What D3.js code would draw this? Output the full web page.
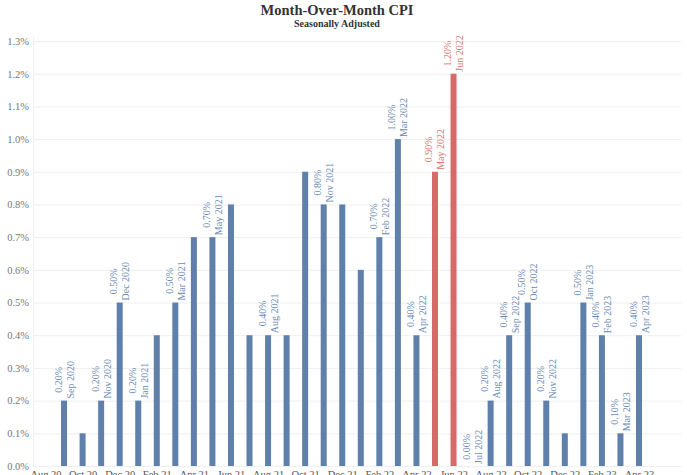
<!DOCTYPE html>
<html><head><meta charset="utf-8">
<script src="https://cdn.jsdelivr.net/npm/d3@7"></script>
<style>
html,body{margin:0;padding:0;background:#fff;overflow:hidden;}
svg{display:block;font-family:"Liberation Serif","DejaVu Serif",serif;}
</style></head>
<body>
<svg id="chart" width="687" height="475"></svg>
<script>
const categories = ["Sep 2020","Oct 2020","Nov 2020","Dec 2020","Jan 2021","Feb 2021","Mar 2021","Apr 2021","May 2021","Jun 2021","Jul 2021","Aug 2021","Sep 2021","Oct 2021","Nov 2021","Dec 2021","Jan 2022","Feb 2022","Mar 2022","Apr 2022","May 2022","Jun 2022","Jul 2022","Aug 2022","Sep 2022","Oct 2022","Nov 2022","Dec 2022","Jan 2023","Feb 2023","Mar 2023","Apr 2023"];
const values = [0.2,0.1,0.2,0.5,0.2,0.4,0.5,0.7,0.7,0.8,0.4,0.4,0.4,0.9,0.8,0.8,0.6,0.7,1.0,0.4,0.9,1.2,0.0,0.2,0.4,0.5,0.2,0.1,0.5,0.4,0.1,0.4];
const highlighted = ["May 2022","Jun 2022"];
const labeled = ["Sep 2020","Nov 2020","Dec 2020","Jan 2021","Mar 2021","May 2021","Aug 2021","Nov 2021","Feb 2022","Mar 2022","Apr 2022","May 2022","Jun 2022","Jul 2022","Aug 2022","Sep 2022","Oct 2022","Nov 2022","Jan 2023","Feb 2023","Mar 2023","Apr 2023"];
const axisMonths = ["Aug 2020"].concat(categories);
const xTickLabels = ["Aug 20","Oct 20","Dec 20","Feb 21","Apr 21","Jun 21","Aug 21","Oct 21","Dec 21","Feb 22","Apr 22","Jun 22","Aug 22","Oct 22","Dec 22","Feb 23","Apr 23"];
const yTicks = [0,0.1,0.2,0.3,0.4,0.5,0.6,0.7,0.8,0.9,1.0,1.1,1.2,1.3];
const title = "Month-Over-Month CPI";
const subtitle = "Seasonally Adjusted";

const blue = "#5f80ab", red = "#d76a66";
const blueText = "#6a8ab4", redText = "#d8736e";

const svg = d3.select("#chart");
const plotLeft = 33, plotRight = 681, plotTop = 41, plotBottom = 466;

const x = d3.scalePoint().domain(axisMonths).range([45.5, 639]);
const y = d3.scaleLinear().domain([0, 1.3]).range([plotBottom, plotTop]);

// gridlines
const grid = svg.append("g").attr("class","grid")
  .attr("transform", `translate(${plotLeft},0)`)
  .call(d3.axisLeft(y).tickValues(yTicks).tickSize(-(plotRight - plotLeft)).tickFormat(""));
grid.select(".domain").remove();
grid.selectAll("line").attr("stroke", "#efefef").attr("stroke-width", 1);
svg.append("line").attr("x1", plotLeft + 0.5).attr("x2", plotLeft + 0.5)
  .attr("y1", plotTop - 4).attr("y2", plotBottom).attr("stroke", "#f0f0f0");

// y axis labels
const yAxis = svg.append("g").attr("transform", `translate(${plotLeft - 4},0)`)
  .call(d3.axisLeft(y).tickValues(yTicks).tickSize(0).tickPadding(0).tickFormat(d => d3.format(".1f")(d) + "%"));
yAxis.select(".domain").remove();
yAxis.selectAll("text").attr("font-family", "Liberation Serif, serif").attr("font-size", 10.5).attr("fill", "#777");

// x axis (partly below the bottom edge, as in the reference)
const xAxis = svg.append("g").attr("transform", `translate(0,${plotBottom})`)
  .call(d3.axisBottom(x).tickValues(axisMonths.filter((d,i) => i % 2 === 0)).tickSize(0).tickPadding(5)
    .tickFormat((d) => xTickLabels[axisMonths.indexOf(d) / 2]));
xAxis.select(".domain").remove();
xAxis.selectAll("text").attr("font-family", "Liberation Serif, serif").attr("font-size", 10.5).attr("fill", "#555");

// bars
const data = categories.map((c, i) => ({ c, v: values[i], hi: highlighted.includes(c) }));
const bw = 6;
svg.append("g").selectAll("rect").data(data).join("rect")
  .attr("x", d => x(d.c) - bw / 2)
  .attr("y", d => y(d.v))
  .attr("width", bw)
  .attr("height", d => plotBottom - y(d.v))
  .attr("fill", d => d.hi ? red : blue);

// labels
const lab = svg.append("g").selectAll("g").data(data.filter(d => labeled.includes(d.c))).join("g");
lab.each(function(d) {
  const g = d3.select(this);
  const col = d.hi ? redText : blueText;
  const t1 = g.append("text").text(d3.format(".2f")(d.v) + "%")
    .attr("x", 0).attr("y", -6).attr("dy", "0.35em").attr("text-anchor", "middle")
    .attr("font-size", 10).attr("fill", col);
  const t2 = g.append("text").text(d.c)
    .attr("x", 0).attr("y", 6).attr("dy", "0.35em").attr("text-anchor", "middle")
    .attr("font-size", 10).attr("fill", col);
  const maxLen = Math.max(t1.node().getComputedTextLength(), t2.node().getComputedTextLength());
  const cy = y(d.v) - 2 - maxLen / 2;
  g.attr("transform", `translate(${x(d.c)},${cy}) rotate(-90)`);
});

// titles
svg.append("text").attr("x", 337).attr("y", 15).attr("text-anchor", "middle")
  .attr("font-size", 14.5).attr("font-weight", "bold").attr("fill", "#333").text(title);
svg.append("text").attr("x", 337).attr("y", 27).attr("text-anchor", "middle")
  .attr("font-size", 10).attr("font-weight", "bold").attr("fill", "#333").text(subtitle);
</script>
</body></html>
